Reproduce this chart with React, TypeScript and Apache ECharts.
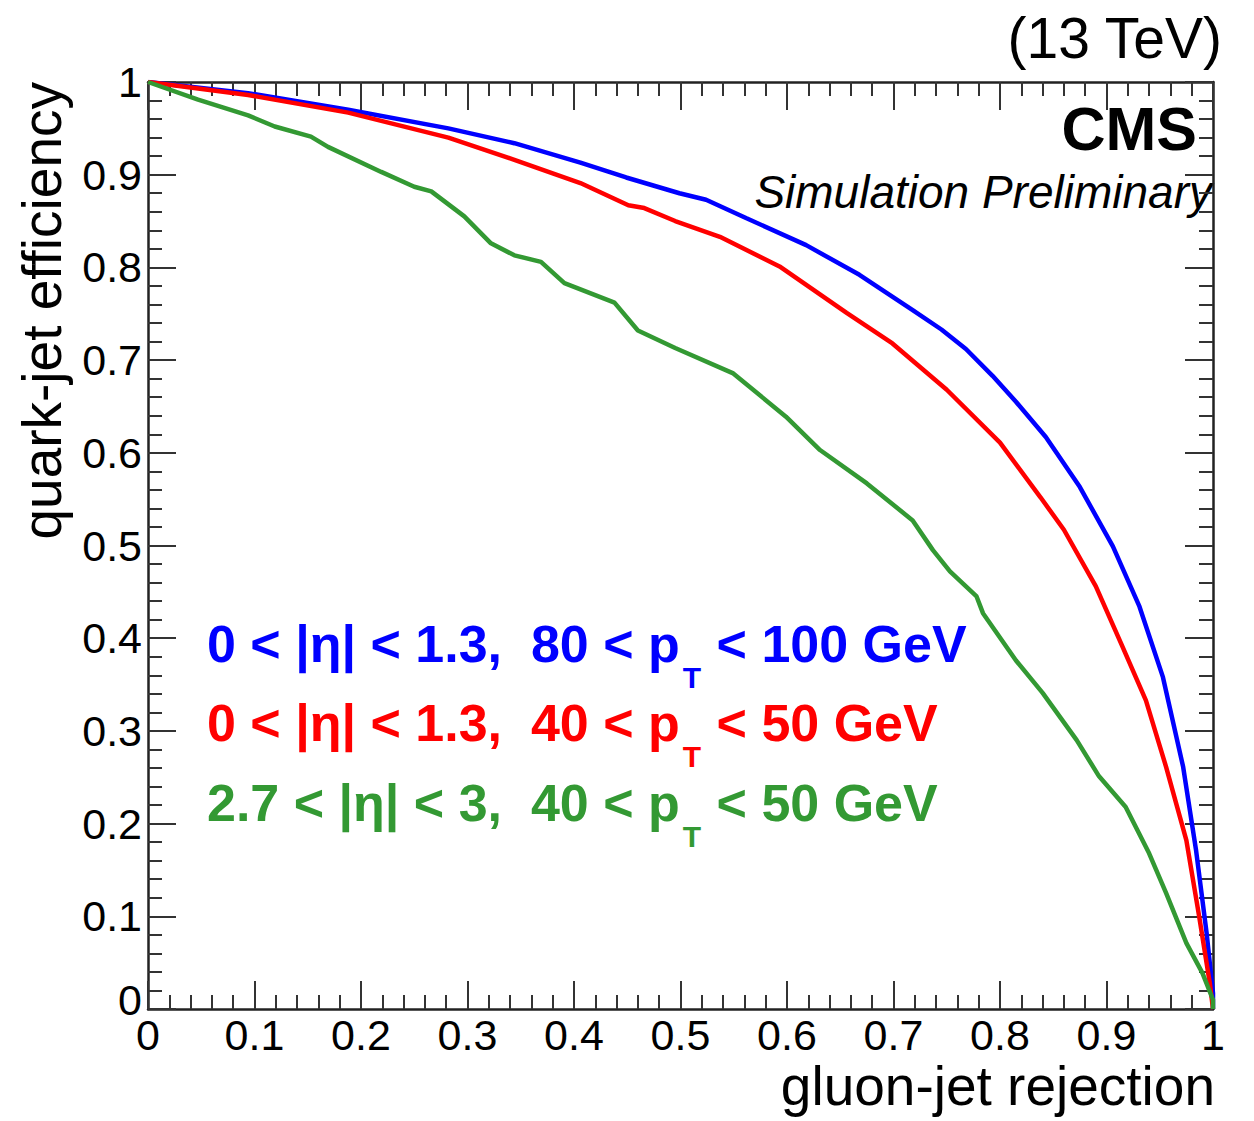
import React, { useEffect, useRef } from "react";
import * as echarts from "echarts";

// ROC curves: [gluon-jet rejection, quark-jet efficiency]
const centralHighPt: [number, number][] = [
  [0, 1], [0.094, 0.988], [0.188, 0.97], [0.282, 0.95], [0.344, 0.934], [0.406, 0.913],
  [0.449, 0.897], [0.499, 0.88], [0.524, 0.873], [0.562, 0.853], [0.618, 0.824],
  [0.668, 0.792], [0.718, 0.754], [0.745, 0.733], [0.768, 0.712], [0.793, 0.683],
  [0.815, 0.655], [0.843, 0.617], [0.875, 0.563], [0.906, 0.499], [0.931, 0.434],
  [0.953, 0.358], [0.972, 0.261], [0.984, 0.172], [0.994, 0.082], [1.0, 0.017], [1.0, 0],
];

const centralLowPt: [number, number][] = [
  [0, 1], [0.094, 0.986], [0.188, 0.967], [0.282, 0.94], [0.344, 0.916], [0.406, 0.891],
  [0.451, 0.867], [0.466, 0.864], [0.495, 0.85], [0.537, 0.833], [0.593, 0.801],
  [0.656, 0.751], [0.699, 0.718], [0.75, 0.668], [0.8, 0.611], [0.838, 0.552],
  [0.86, 0.517], [0.89, 0.456], [0.915, 0.391], [0.937, 0.333], [0.956, 0.261],
  [0.975, 0.182], [0.987, 0.1], [0.997, 0.028], [1.0, 0],
];

const forwardLowPt: [number, number][] = [
  [0, 1], [0.047, 0.981], [0.094, 0.964], [0.119, 0.952], [0.153, 0.941], [0.169, 0.93],
  [0.219, 0.903], [0.25, 0.887], [0.266, 0.882], [0.297, 0.855], [0.322, 0.826],
  [0.344, 0.813], [0.369, 0.806], [0.391, 0.783], [0.438, 0.762], [0.46, 0.732],
  [0.495, 0.713], [0.549, 0.686], [0.599, 0.639], [0.631, 0.603], [0.675, 0.567],
  [0.718, 0.527], [0.737, 0.495], [0.753, 0.472], [0.778, 0.445], [0.784, 0.427],
  [0.815, 0.376], [0.84, 0.341], [0.872, 0.29], [0.893, 0.251], [0.918, 0.218],
  [0.94, 0.168], [0.956, 0.125], [0.975, 0.071], [0.99, 0.039], [1.0, 0.01], [1.0, 0],
];

const seriesColors = ["#0000ff", "#ff0000", "#339933"];

// Legend entries: text before the subscript, subscript, text after
const legendEntries = [
  { before: "0 < |η| < 1.3,\u00a0\u00a080 < p", sub: "T", after: "\u00a0< 100 GeV" },
  { before: "0 < |η| < 1.3,\u00a0\u00a040 < p", sub: "T", after: "\u00a0< 50 GeV" },
  { before: "2.7 < |η| < 3,\u00a0\u00a040 < p", sub: "T", after: "\u00a0< 50 GeV" },
];

const xTitle = "gluon-jet rejection";
const yTitle = "quark-jet efficiency";
const energyLabel = "(13 TeV)";
const experimentLabel = "CMS";
const statusLabel = "Simulation Preliminary";

const FONT = "'Liberation Sans', Arial, Helvetica, sans-serif";
const W = 1254;
const H = 1121;
const GRID = { left: 148, top: 82, width: 1065, height: 927 };
const TICK_FONT = 43;

function measure(text: string, size: number, weight: string): number {
  const ctx = document.createElement("canvas").getContext("2d");
  if (!ctx) return text.length * size * 0.55;
  ctx.font = `${weight} ${size}px ${FONT}`;
  return ctx.measureText(text).width;
}

// y for a text centred on the em box given its baseline
const mid = (baseline: number, size: number) => baseline - 0.3465 * size;

const fmt = (v: number) => String(Math.round(v * 10) / 10);

export default function App() {
  const ref = useRef<HTMLDivElement>(null);

  useEffect(() => {
    if (!ref.current) return;
    const chart = echarts.init(ref.current, undefined, { renderer: "svg" });

    const tickColor = "#333";
    const axisCommon = (showLabel: boolean, margin: number, liftZero: boolean) => ({
      type: "value" as const,
      min: 0,
      max: 1,
      interval: 0.1,
      splitLine: { show: false },
      axisLine: { show: true, onZero: false, lineStyle: { color: "#222", width: 2.5 } },
      axisTick: { show: true, inside: true, length: 28, lineStyle: { color: tickColor, width: 2 } },
      minorTick: { show: true, splitNumber: 5, length: 14, lineStyle: { color: tickColor, width: 2 } },
      axisLabel: {
        show: showLabel,
        color: "#000",
        fontFamily: FONT,
        fontSize: TICK_FONT,
        lineHeight: 40,
        margin,
        formatter: (v: number) => (liftZero && v === 0 ? "{zero|0}" : fmt(v)),
        rich: {
          zero: {
            color: "#000",
            fontFamily: FONT,
            fontSize: TICK_FONT,
            lineHeight: 40,
            padding: [0, 0, 18, 0],
          },
        },
      },
    });

    const legendSize = 52;
    const subSize = 30;
    const legendBaselines = [662, 741, 821];
    const legendX = 207;
    const legendGraphics: any[] = [];
    legendEntries.forEach((e, i) => {
      const color = seriesColors[i];
      const base = legendBaselines[i];
      const w1 = measure(e.before, legendSize, "bold");
      const w2 = measure(e.sub, subSize, "bold");
      legendGraphics.push(
        {
          type: "text",
          x: legendX,
          y: mid(base, legendSize),
          style: { text: e.before, fill: color, fontFamily: FONT, fontWeight: "bold", fontSize: legendSize, align: "left", verticalAlign: "middle" },
        },
        {
          type: "text",
          x: legendX + w1 + 3,
          y: mid(base + 26, subSize),
          style: { text: e.sub, fill: color, fontFamily: FONT, fontWeight: "bold", fontSize: subSize, align: "left", verticalAlign: "middle" },
        },
        {
          type: "text",
          x: legendX + w1 + 3 + w2 + 1,
          y: mid(base, legendSize),
          style: { text: e.after, fill: color, fontFamily: FONT, fontWeight: "bold", fontSize: legendSize, align: "left", verticalAlign: "middle" },
        }
      );
    });

    chart.setOption({
      animation: false,
      backgroundColor: "#fff",
      grid: { ...GRID, outerBoundsMode: "none", show: false },
      xAxis: [
        { ...axisCommon(true, 6, false), position: "bottom" },
        { ...axisCommon(false, 6, false), position: "top" },
      ],
      yAxis: [
        { ...axisCommon(true, 6, true), position: "left" },
        { ...axisCommon(false, 6, false), position: "right" },
      ],
      series: [
        { data: centralHighPt, color: seriesColors[0] },
        { data: centralLowPt, color: seriesColors[1] },
        { data: forwardLowPt, color: seriesColors[2] },
      ].map((s) => ({
        type: "line",
        data: s.data,
        xAxisIndex: 0,
        yAxisIndex: 0,
        showSymbol: false,
        symbol: "none",
        smooth: false,
        clip: true,
        itemStyle: { color: s.color },
        lineStyle: { color: s.color, width: 4.5 },
      })),
      graphic: [
        {
          type: "text",
          x: GRID.left + GRID.width + 2,
          y: mid(1105, 55),
          style: { text: xTitle, fill: "#000", fontFamily: FONT, fontSize: 55, lineHeight: 50, align: "right", verticalAlign: "middle" },
        },
        {
          type: "text",
          x: 42,
          y: GRID.top,
          rotation: Math.PI / 2,
          style: { text: yTitle, fill: "#000", fontFamily: FONT, fontSize: 55, align: "right", verticalAlign: "middle" },
        },
        {
          type: "text",
          x: 1222,
          y: mid(58, 57),
          style: { text: energyLabel, fill: "#000", fontFamily: FONT, fontSize: 57, align: "right", verticalAlign: "middle" },
        },
        {
          type: "text",
          x: 1197,
          y: mid(150, 61),
          style: { text: experimentLabel, fill: "#000", fontFamily: FONT, fontWeight: "bold", fontSize: 61, align: "right", verticalAlign: "middle" },
        },
        {
          type: "text",
          x: 1212,
          y: mid(208, 46),
          style: { text: statusLabel, fill: "#000", fontFamily: FONT, fontStyle: "italic", fontSize: 46, align: "right", verticalAlign: "middle" },
        },
        ...legendGraphics,
      ],
    });

    return () => chart.dispose();
  }, []);

  return (
    <div
      ref={ref}
      style={{ position: "absolute", left: 0, top: 0, width: W, height: H, background: "#fff" }}
    />
  );
}
